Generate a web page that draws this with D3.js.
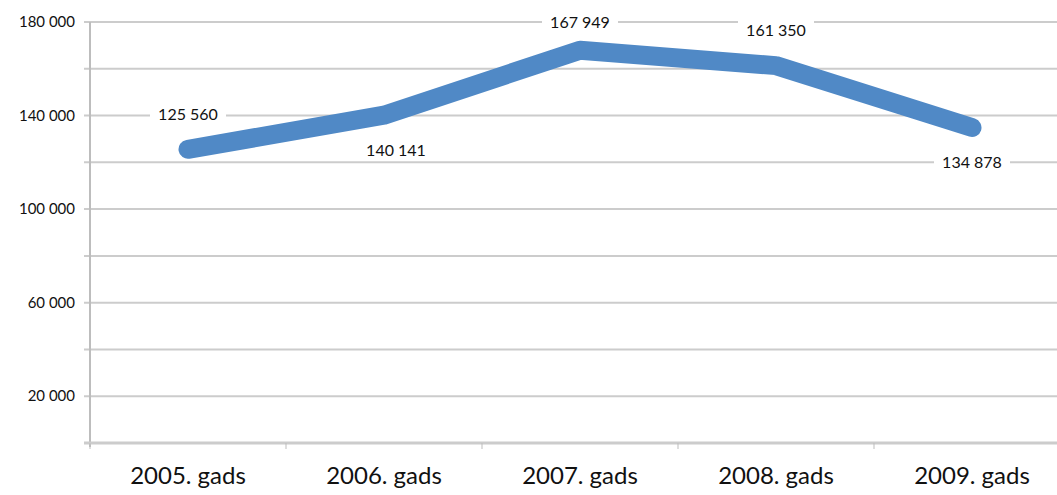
<!DOCTYPE html>
<html>
<head>
<meta charset="utf-8">
<style>
  body { margin: 0; background: #fff; }
  svg { display: block; font-family: Lato, "Open Sans", sans-serif; }
</style>
</head>
<body>
<div id="chart"></div>
<script src="https://cdn.jsdelivr.net/npm/d3@7"></script>
<script>
var years = ['2005. gads', '2006. gads', '2007. gads', '2008. gads', '2009. gads'];
var values = [125560, 140141, 167949, 161350, 134878];
var labelText = ['125 560', '140 141', '167 949', '161 350', '134 878'];
// label above (-1) or below (+1) the point
var labelSide = [-1, 1, -1, -1, 1];
var gridTicks = [20000, 40000, 60000, 80000, 100000, 120000, 140000, 160000, 180000];
var labelTicks = [20000, 60000, 100000, 140000, 180000];

var width = 1057, height = 495;
var mLeft = 90, mRight = 1070, mTop = 22, mBottom = 443;

var svg = d3.select('#chart').append('svg')
    .attr('width', width)
    .attr('height', height);

var x = d3.scaleBand().domain(years).range([mLeft, mRight]);
var y = d3.scaleLinear().domain([0, 180000]).range([mBottom, mTop]);

var fmt = function(v){ return d3.format(',')(v).replace(/,/g, ' '); };

// grid lines
svg.append('g').selectAll('line')
    .data(gridTicks)
    .enter().append('line')
    .attr('x1', mLeft - 6).attr('x2', width)
    .attr('y1', function(d){ return y(d); })
    .attr('y2', function(d){ return y(d); })
    .attr('stroke', '#cccccc')
    .attr('stroke-width', 2);

// y axis line
svg.append('line')
    .attr('x1', mLeft).attr('x2', mLeft)
    .attr('y1', mTop).attr('y2', mBottom + 4)
    .attr('stroke', '#bdbdbd').attr('stroke-width', 2);

// x axis line + ticks
svg.append('line')
    .attr('x1', mLeft - 6).attr('x2', width)
    .attr('y1', mBottom).attr('y2', mBottom)
    .attr('stroke', '#cccccc').attr('stroke-width', 3);
svg.append('g').selectAll('line')
    .data(years)
    .enter().append('line')
    .attr('x1', function(d){ return x(d); })
    .attr('x2', function(d){ return x(d); })
    .attr('y1', mBottom).attr('y2', mBottom + 6)
    .attr('stroke', '#bdbdbd').attr('stroke-width', 1);

// y labels
svg.append('g').selectAll('text')
    .data(labelTicks)
    .enter().append('text')
    .attr('x', 75)
    .attr('y', function(d){ return y(d); })
    .attr('dy', '0.35em')
    .attr('text-anchor', 'end')
    .attr('font-size', 15)
    .attr('fill', '#111')
    .text(fmt);

// x labels
svg.append('g').selectAll('text')
    .data(years)
    .enter().append('text')
    .attr('x', function(d){ return x(d) + x.bandwidth() / 2; })
    .attr('y', 484)
    .attr('text-anchor', 'middle')
    .attr('font-size', 24)
    .attr('fill', '#111')
    .text(function(d){ return d; });

// the line
var line = d3.line()
    .x(function(d, i){ return x(years[i]) + x.bandwidth() / 2; })
    .y(function(d){ return y(d); });

svg.append('path')
    .datum(values)
    .attr('d', line)
    .attr('fill', 'none')
    .attr('stroke', '#5089c6')
    .attr('stroke-width', 19)
    .attr('stroke-linecap', 'round')
    .attr('stroke-linejoin', 'round');

// data labels with white boxes
var lab = svg.append('g').selectAll('g')
    .data(values)
    .enter().append('g')
    .attr('transform', function(d, i){
        var off = labelSide[i] < 0 ? (i == 2 ? -28 : -35) : 35;
        var dx = i == 1 ? 12 : 0;
        return 'translate(' + (x(years[i]) + x.bandwidth() / 2 + dx) + ',' + (y(d) + off) + ')';
    });

lab.append('rect')
    .attr('x', -38).attr('y', -10)
    .attr('width', 76).attr('height', 20)
    .attr('fill', '#fff');

lab.append('text')
    .attr('text-anchor', 'middle')
    .attr('dy', '0.35em')
    .attr('font-size', 16)
    .attr('fill', '#111')
    .text(function(d, i){ return labelText[i]; });
</script>
</body>
</html>
